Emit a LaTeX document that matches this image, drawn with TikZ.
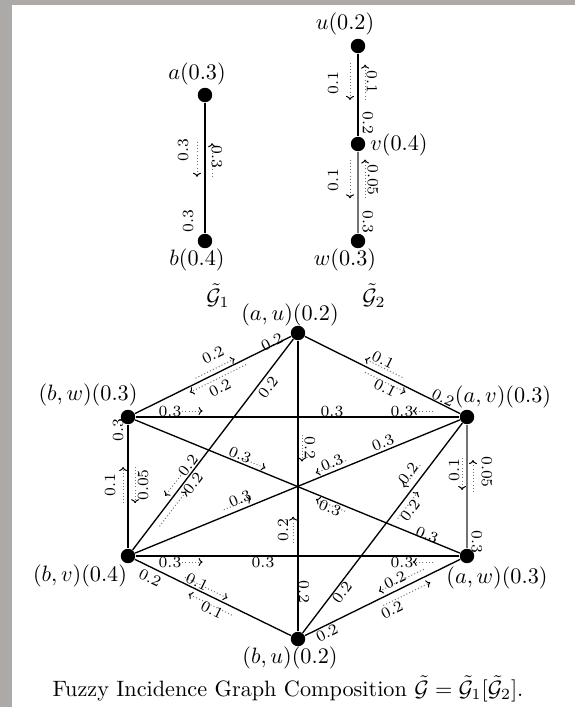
\documentclass[tikz,border=0pt]{standalone}
\usepackage{amsmath}
\usepackage{amssymb}
\usepackage{xcolor}
\usepackage{tikz}
\usetikzlibrary{arrows.meta, calc}
\definecolor{framegray}{RGB}{172,169,167}

\newcommand{\incid}[5]{%
  \draw[incarr] ($(#1)!#3!(#2)!#5!90:(#2)$) -- ($(#1)!#4!(#2)!#5!90:(#2)$);}

\begin{document}
\begin{tikzpicture}[
    x=0.45pt, y=-0.45pt,
    vert/.style={circle, fill, inner sep=0pt, minimum size=6.5pt},
    ln/.style={line width=0.6pt},
    txt/.style={inner sep=1pt},
    lbl/.style={font=\scriptsize, inner sep=0.5pt},
    incarr/.style={densely dotted, black!55, line width=0.45pt, -{To[length=1.8pt, width=3.6pt, color=black]}},
]
    \fill[framegray] (0,0) rectangle (575,707);
    \fill[white] (12,5) rectangle (575,707);

    \node[vert] (a) at (205,95) {};
    \node[vert] (b) at (205,241) {};
    \node[vert] (u) at (358,46) {};
    \node[vert] (v) at (358,144) {};
    \node[vert] (w) at (358,241) {};
    \node[txt] (la) at (197,74) {$a(0.3)$};
    \node[txt] (lb) at (197,260) {$b(0.4)$};
    \node[txt] (lu) at (345,24) {$u(0.2)$};
    \node[txt] (lv) at (399,145) {$v(0.4)$};
    \node[txt] (lw) at (345,260) {$w(0.3)$};
    \node[txt] (g1) at (218,296) {$\tilde{\mathcal{G}}_1$};
    \node[txt] (g2) at (374,296) {$\tilde{\mathcal{G}}_2$};

    \draw[ln] (a) -- (b);
    \draw[line width=1.2pt] (u) -- (v);
    \draw[ln, black!55] (v) -- (w);

    \incid{a}{b}{0.32}{0.56}{-3.6pt}
    \incid{a}{b}{0.56}{0.33}{3.2pt}
    \node[lbl, rotate=90] (ab1) at (183,150) {0.3};
    \node[lbl, rotate=-90] (ab2) at (217,157) {0.3};
    \node[lbl, rotate=90] (abm) at (188,221) {0.3};

    \incid{u}{v}{0.17}{0.55}{-3.6pt}
    \incid{u}{v}{0.55}{0.19}{3.2pt}
    \incid{v}{w}{0.16}{0.56}{-3.6pt}
    \incid{v}{w}{0.56}{0.16}{3.2pt}
    \node[lbl, rotate=90] (uv1) at (333,83) {0.1};
    \node[lbl, rotate=-90] (uv2) at (372,82) {0.1};
    \node[lbl, rotate=-90] (uvm) at (368,123) {0.2};
    \node[lbl, rotate=90] (vw1) at (333,180) {0.1};
    \node[lbl, rotate=-90] (vw2) at (373,180) {0.05};
    \node[lbl, rotate=-90] (vwm) at (368,222) {0.3};

    \node[vert] (au) at (298,333) {};
    \node[vert] (av) at (467,417) {};
    \node[vert] (aw) at (467,556) {};
    \node[vert] (bu) at (298,639) {};
    \node[vert] (bv) at (128,556) {};
    \node[vert] (bw) at (128,417) {};
    \node[txt] (lau) at (290,315) {$(a,u)(0.2)$};
    \node[txt] (lav) at (503,397) {$(a,v)(0.3)$};
    \node[txt] (law) at (497,578) {$(a,w)(0.3)$};
    \node[txt] (lbu) at (290,658) {$(b,u)(0.2)$};
    \node[txt] (lbv) at (80,576) {$(b,v)(0.4)$};
    \node[txt] (lbw) at (88,395) {$(b,w)(0.3)$};

    \draw[ln] (bw) -- (au);
    \draw[ln] (au) -- (av);
    \draw[ln] (bw) -- (av);
    \draw[ln] (bv) -- (aw);
    \draw[ln] (bw) -- (bv);
    \draw[ln, black!55] (av) -- (aw);
    \draw[ln] (au) -- (bu);
    \draw[ln] (bv) -- (av);
    \draw[ln] (bw) -- (aw);
    \draw[ln] (bv) -- (au);
    \draw[ln] (bu) -- (av);
    \draw[ln] (bu) -- (aw);
    \draw[ln] (bv) -- (bu);

    \incid{bw}{au}{0.41}{0.64}{2.2pt}
    \incid{bw}{au}{0.68}{0.35}{-2.4pt}
    \node[lbl, rotate=26.3] (p1) at (213,355) {0.2};
    \node[lbl, rotate=26.3] (q1) at (220,388) {0.2};
    \node[lbl, rotate=26.3] (m1) at (272,342) {0.2};

    \incid{au}{av}{0.60}{0.38}{3pt}
    \incid{au}{av}{0.41}{0.65}{-2.4pt}
    \node[lbl, rotate=-26.4] (p2) at (383,360) {0.1};
    \node[lbl, rotate=-26.4] (q2) at (385,388) {0.1};
    \node[lbl, rotate=-26.4] (m2) at (443,398) {0.2};

    \incid{bw}{av}{0.16}{0.22}{2.7pt}
    \incid{bw}{av}{0.90}{0.84}{2.7pt}
    \node[lbl] (p3) at (170,411) {0.3};
    \node[lbl] (m3) at (332,411) {0.3};
    \node[lbl] (q3) at (402,411) {0.3};

    \incid{bv}{aw}{0.16}{0.22}{-2.7pt}
    \incid{bv}{aw}{0.90}{0.84}{-2.7pt}
    \node[lbl] (p4) at (170,562) {0.3};
    \node[lbl] (m4) at (263,562) {0.3};
    \node[lbl] (q4) at (402,562) {0.3};

    \incid{bw}{bv}{0.62}{0.36}{-2.2pt}
    \incid{bw}{bv}{0.36}{0.62}{3.2pt}
    \node[lbl, rotate=90] (p5) at (110,485) {0.1};
    \node[lbl, rotate=90] (q5) at (143,485) {0.05};
    \node[lbl, rotate=90] (m5) at (118,430) {0.3};

    \incid{av}{aw}{0.295}{0.525}{-2.2pt}
    \incid{av}{aw}{0.54}{0.31}{2.7pt}
    \node[lbl, rotate=90] (p6) at (454,470) {0.1};
    \node[lbl, rotate=-90] (q6) at (487,472) {0.05};
    \node[lbl, rotate=-90] (m6) at (477,542) {0.3};

    \incid{au}{bu}{0.333}{0.42}{1.8pt}
    \incid{au}{bu}{0.686}{0.60}{-2.2pt}
    \node[lbl, rotate=-90] (p7) at (310,448) {0.2};
    \node[lbl, rotate=90] (q7) at (283,530) {0.2};
    \node[lbl, rotate=-90] (m7) at (304,592) {0.2};

    \incid{bv}{av}{0.65}{0.56}{2.5pt}
    \incid{bv}{av}{0.29}{0.37}{2.9pt}
    \node[lbl, rotate=22.3] (p8) at (332,463) {0.3};
    \node[lbl, rotate=22.3] (q8) at (240,499) {0.3};
    \node[lbl, rotate=22.3] (m8) at (383,443) {0.3};

    \incid{bw}{aw}{0.33}{0.40}{2.2pt}
    \incid{bw}{aw}{0.646}{0.56}{-2.2pt}
    \node[lbl, rotate=-22.3] (p9) at (240,455) {0.3};
    \node[lbl, rotate=-22.3] (q9) at (330,508) {0.3};
    \node[lbl, rotate=-22.3] (m9) at (427,535) {0.3};

    \incid{bv}{au}{0.354}{0.251}{3.1pt}
    \incid{bv}{au}{0.152}{0.309}{-3.2pt}
    \node[lbl, rotate=52.7] (p10) at (188,465) {0.2};
    \node[lbl, rotate=52.7] (q10) at (193,483) {0.2};
    \node[lbl, rotate=52.7] (m10) at (268,387) {0.2};

    \incid{bu}{av}{0.761}{0.662}{3.6pt}
    \incid{bu}{av}{0.56}{0.68}{-2.9pt}
    \node[lbl, rotate=52.7] (p11) at (408,473) {0.2};
    \node[lbl, rotate=52.7] (q11) at (410,510) {0.2};
    \node[lbl, rotate=52.7] (m11) at (342,592) {0.2};

    \incid{bu}{aw}{0.763}{0.497}{3.2pt}
    \incid{bu}{aw}{0.485}{0.763}{-3.4pt}
    \node[lbl, rotate=26.2] (p12) at (395,580) {0.2};
    \node[lbl, rotate=26.2] (q12) at (392,610) {0.2};
    \node[lbl, rotate=26.2] (m12) at (327,633) {0.2};

    \incid{bv}{bu}{0.32}{0.57}{2.6pt}
    \incid{bv}{bu}{0.63}{0.376}{-3.4pt}
    \node[lbl, rotate=-26] (p13) at (197,582) {0.1};
    \node[lbl, rotate=-26] (q13) at (212,610) {0.1};
    \node[lbl, rotate=-26] (m13) at (150,578) {0.2};

    \node[txt] (cap) at (288,689) {Fuzzy Incidence Graph Composition $\tilde{\mathcal{G}}=\tilde{\mathcal{G}}_1[\tilde{\mathcal{G}}_2]$.};
\end{tikzpicture}
\end{document}
